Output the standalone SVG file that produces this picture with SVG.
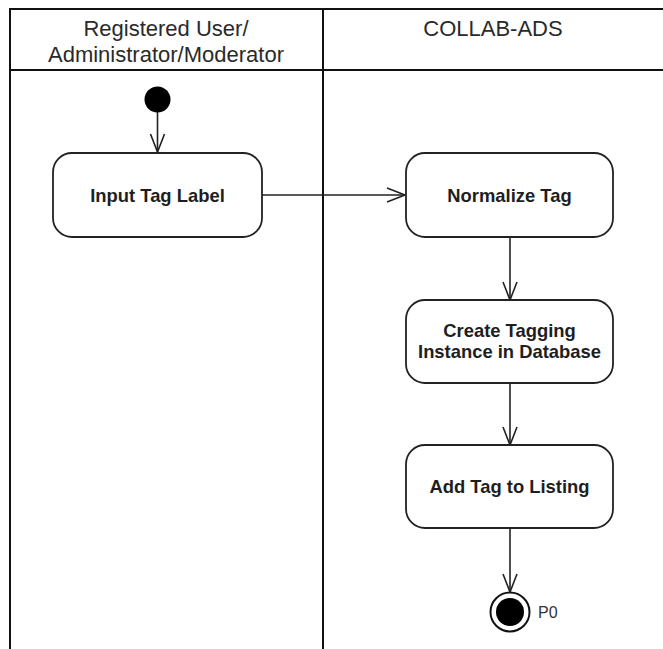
<svg xmlns="http://www.w3.org/2000/svg" width="663" height="649" viewBox="0 0 663 649">
<defs>
<marker id="open" markerUnits="userSpaceOnUse" markerWidth="22" markerHeight="18" refX="19" refY="8" orient="auto">
<path d="M1,1 L19,8 L1,15" fill="none" stroke="#222" stroke-width="1.6"/>
</marker>
</defs>
<style>
.frame{stroke:#111;stroke-width:2;fill:none}
.hdr{font-family:"Liberation Sans",Arial,sans-serif;font-size:22px;fill:#2a2a2a;text-anchor:middle}
.act rect{fill:#fff;stroke:#222;stroke-width:1.8}
.act text{font-family:"Liberation Sans",Arial,sans-serif;font-size:18.4px;font-weight:bold;fill:#1e1e1e;text-anchor:middle}
.edge{stroke:#222;stroke-width:1.6;fill:none;marker-end:url(#open)}
.lbl{font-family:"Liberation Sans",Arial,sans-serif;font-size:16px;fill:#333}
</style>
<rect width="663" height="649" fill="#fff"/>
<g id="swimlanes">
<path class="frame" d="M10,649 V9 H663 M10,70 H663 M323,9 V649"/>
<text class="hdr" x="166" y="36">Registered User/</text>
<text class="hdr" x="166" y="62">Administrator/Moderator</text>
<text class="hdr" x="493" y="36">COLLAB-ADS</text>
</g>
<g id="connectors">
<line class="edge" x1="157.5" y1="112" x2="157.5" y2="152"/>
<line class="edge" x1="262" y1="195" x2="405" y2="195"/>
<line class="edge" x1="510" y1="237" x2="510" y2="300"/>
<line class="edge" x1="510" y1="383" x2="510" y2="445"/>
<line class="edge" x1="510" y1="528" x2="510" y2="592"/>
</g>
<g id="initial">
<circle cx="157.5" cy="99.5" r="13" fill="#000"/>
</g>
<g id="input-tag-label" class="act">
<rect x="53" y="153" width="209" height="84" rx="19" ry="19"/>
<text x="157.5" y="202">Input Tag Label</text>
</g>
<g id="normalize-tag" class="act">
<rect x="406" y="153" width="207" height="84" rx="19" ry="19"/>
<text x="509.5" y="202">Normalize Tag</text>
</g>
<g id="create-tagging" class="act">
<rect x="406" y="300" width="207" height="83" rx="19" ry="19"/>
<text x="509.5" y="337">Create Tagging</text>
<text x="509.5" y="358">Instance in Database</text>
</g>
<g id="add-tag" class="act">
<rect x="406" y="445" width="207" height="83" rx="19" ry="19"/>
<text x="509.5" y="493">Add Tag to Listing</text>
</g>
<g id="final">
<circle cx="510" cy="612" r="19.5" fill="#fff" stroke="#111" stroke-width="2"/>
<circle cx="510" cy="612" r="14" fill="#000"/>
<text class="lbl" x="538" y="618">P0</text>
</g>
</svg>
